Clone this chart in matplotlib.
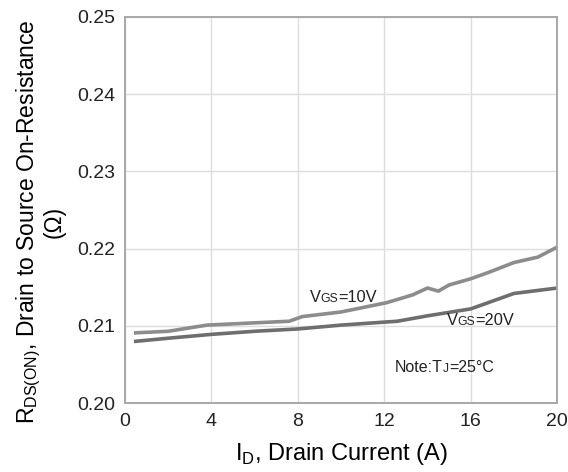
import matplotlib.pyplot as plt

plt.rcParams['font.family'] = ['Liberation Sans', 'DejaVu Sans']

# drain current (A) and on-resistance (ohm)
id_10v = [0.5, 2.0, 3.8, 7.6, 8.2, 10.0, 12.1, 13.3, 14.0, 14.5, 15.0, 16.0, 16.8, 18.0, 19.1, 20.0]
r_10v = [0.2091, 0.2093, 0.2101, 0.2106, 0.2112, 0.2118, 0.2130, 0.2140, 0.2149, 0.2145, 0.2153, 0.2161, 0.2169, 0.2182, 0.2189, 0.2202]

id_20v = [0.5, 2.0, 4.0, 6.0, 8.0, 10.0, 12.6, 14.0, 16.0, 18.0, 20.0]
r_20v = [0.2080, 0.2084, 0.2089, 0.2093, 0.2096, 0.2101, 0.2106, 0.2113, 0.2122, 0.2142, 0.2149]

fig = plt.figure(figsize=(5.68, 4.72), dpi=100)
ax = fig.add_axes([0.220, 0.146, 0.761, 0.818])

ax.plot(id_10v, r_10v, color='#8c8c8c', lw=2.6)
ax.plot(id_20v, r_20v, color='#6e6e6e', lw=2.6)

ax.set_xlim(0, 20)
ax.set_ylim(0.20, 0.25)
ax.set_xticks([0, 4, 8, 12, 16, 20])
ax.set_yticks([0.20, 0.21, 0.22, 0.23, 0.24, 0.25])
ax.set_yticklabels(['0.20', '0.21', '0.22', '0.23', '0.24', '0.25'])
ax.tick_params(length=0, labelsize=14, colors='#222222')
ax.tick_params(axis='y', pad=7)
ax.tick_params(axis='x', pad=7)
ax.grid(True, color='#dddddd', lw=1)
for s in ax.spines.values():
    s.set_color('#a8a8a8')
    s.set_linewidth(1.4)


def small_caps_label(x, y, parts, size):
    # parts: list of (text, scale); each piece follows the previous one
    t = ax.text(x, y, parts[0][0], fontsize=size * parts[0][1], color='#222222',
                va='baseline')
    for txt, sc in parts[1:]:
        t = ax.annotate(txt, xy=(1, 0), xycoords=t, fontsize=size * sc,
                        color='#222222', va='bottom', ha='left')
    return t


small_caps_label(8.56, 0.2131, [('V', 1), ('GS', 0.75), ('=10V', 1)], 11.8)
small_caps_label(14.9, 0.2101, [('V', 1), ('GS', 0.75), ('=20V', 1)], 11.8)
small_caps_label(12.5, 0.2040, [('Note:T', 1), ('J', 0.75), ('=25°C', 1)], 11.5)

ax.set_xlabel('I$_\\mathregular{D}$, Drain Current (A)', fontsize=17, labelpad=8)
ax.set_ylabel('R$_\\mathregular{DS(ON)}$, Drain to Source On-Resistance\n(Ω)',
              fontsize=16.5, labelpad=8, linespacing=1.0)
ax.yaxis.label.set_y(0.47)

fig.savefig('out.png')
